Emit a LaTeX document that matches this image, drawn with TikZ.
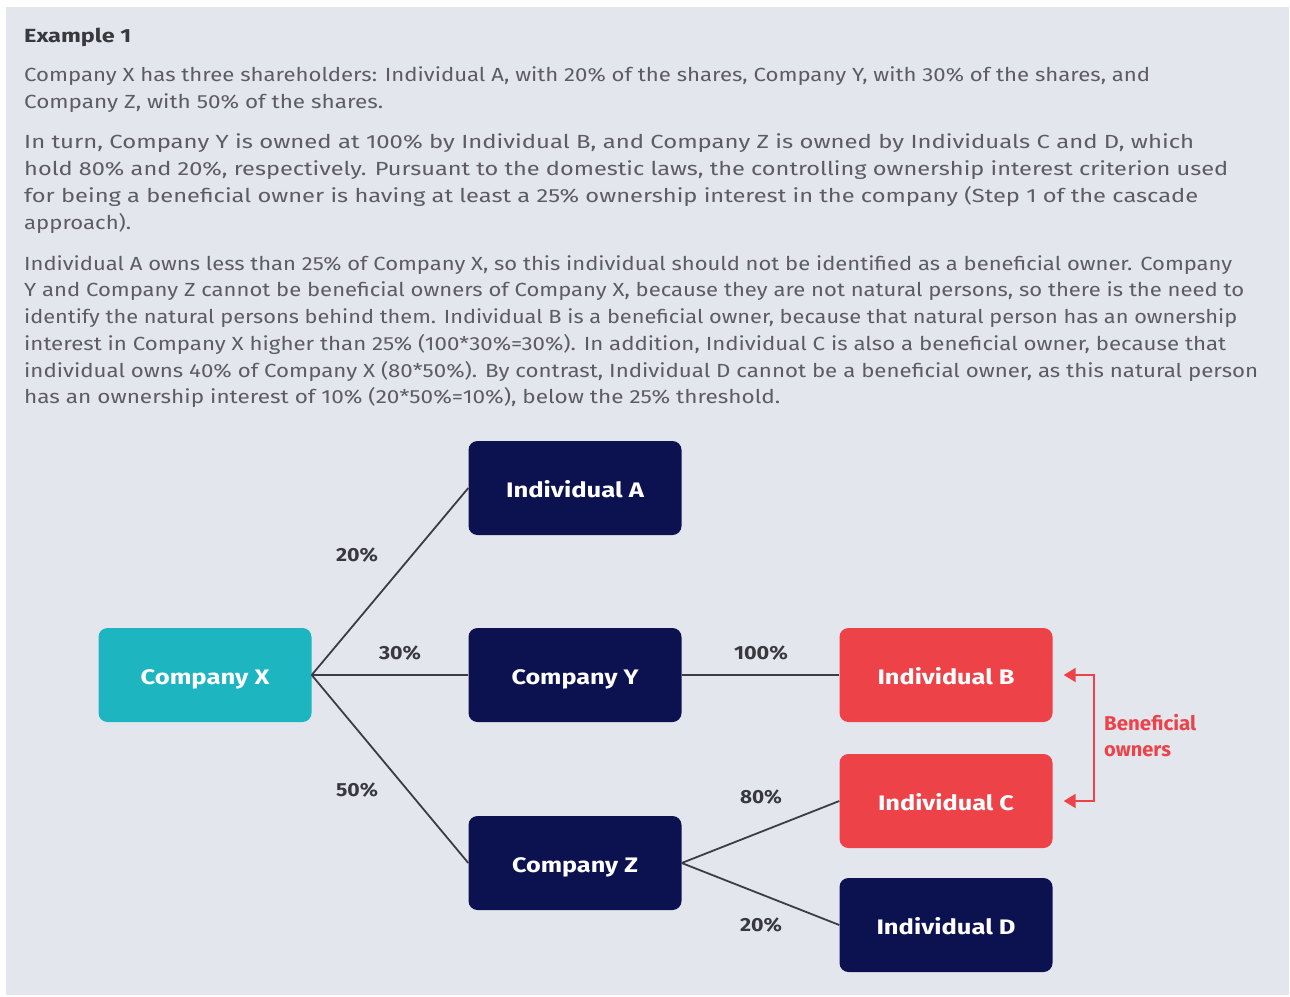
\documentclass[tikz,border=0pt]{standalone}
\usepackage{fontspec}
\setmainfont{Fira Sans}
\usetikzlibrary{arrows.meta}
\definecolor{bgpanel}{HTML}{E4E6EE}
\definecolor{navy}{HTML}{0C1250}
\definecolor{teal}{HTML}{1DB5C0}
\definecolor{redbox}{HTML}{EE4249}
\definecolor{txtgray}{HTML}{5C5C62}
\definecolor{headgray}{HTML}{38383E}
\definecolor{linegray}{HTML}{3C3C48}
\newsavebox\tlbox
\newcommand\tlfit[2]{\sbox\tlbox{#2}\pgfmathsetmacro\tlr{#1/\wd\tlbox}\scalebox{\tlr}[1]{\usebox\tlbox}}
\begin{document}
\begin{tikzpicture}[x=1pt,y=-1pt,
  txt/.style={anchor=base west,inner sep=0pt,text=txtgray,font=\fontsize{19}{20}\selectfont},
  box/.style={rounded corners=9pt,minimum width=213pt,minimum height=94pt,inner sep=0pt,text height=18.5pt,text depth=0pt,text=white,font=\fontsize{21}{24}\selectfont\bfseries},
  pct/.style={inner sep=0pt,text=headgray,font=\fontsize{19}{22}\selectfont\bfseries},
  conn/.style={draw=linegray,line width=1.8pt}]
\useasboundingbox (0,0) rectangle (1290,996);
\fill[white] (0,0) rectangle (1290,996);
\fill[bgpanel] (6,7) rectangle (1289,995);
% heading and text
\node[txt,text=headgray,font=\fontsize{19}{22}\selectfont\bfseries] (h) at (24,42) {\tlfit{107}{Example 1}};
\node[txt] (p1a) at (24,81) {\tlfit{1126}{Company X has three shareholders: Individual A, with 20\% of the shares, Company Y, with 30\% of the shares, and}};
\node[txt] (p1b) at (24,108) {\tlfit{359}{Company Z, with 50\% of the shares.}};
\node[txt] (p2a) at (24,148) {\tlfit{1170}{In turn, Company Y is owned at 100\% by Individual B, and Company Z is owned by Individuals C and D, which}};
\node[txt] (p2b) at (24,175) {\tlfit{1204}{hold 80\% and 20\%, respectively. Pursuant to the domestic laws, the controlling ownership interest criterion used}};
\node[txt] (p2c) at (24,202) {\tlfit{1174}{for being a beneficial owner is having at least a 25\% ownership interest in the company (Step 1 of the cascade}};
\node[txt] (p2d) at (24,229) {\tlfit{107}{approach).}};
\node[txt] (p3a) at (24,270) {\tlfit{1208}{Individual A owns less than 25\% of Company X, so this individual should not be identified as a beneficial owner. Company}};
\node[txt] (p3b) at (24,296) {\tlfit{1220}{Y and Company Z cannot be beneficial owners of Company X, because they are not natural persons, so there is the need to}};
\node[txt] (p3c) at (24,323) {\tlfit{1213}{identify the natural persons behind them. Individual B is a beneficial owner, because that natural person has an ownership}};
\node[txt] (p3d) at (24,350) {\tlfit{1202}{interest in Company X higher than 25\% (100*30\%=30\%). In addition, Individual C is also a beneficial owner, because that}};
\node[txt] (p3e) at (24,377) {\tlfit{1234}{individual owns 40\% of Company X (80*50\%). By contrast, Individual D cannot be a beneficial owner, as this natural person}};
\node[txt] (p3f) at (24,403) {\tlfit{756}{has an ownership interest of 10\% (20*50\%=10\%), below the 25\% threshold.}};
% boxes
\node[box,fill=teal] (X) at (205,675) {\tlfit{129}{Company X}};
\node[box,fill=navy] (A) at (575,488) {\tlfit{138}{Individual A}};
\node[box,fill=navy] (Y) at (575,675) {\tlfit{127}{Company Y}};
\node[box,fill=navy] (Z) at (575,863) {\tlfit{126}{Company Z}};
\node[box,fill=redbox] (B) at (946,675) {\tlfit{137}{Individual B}};
\node[box,fill=redbox] (C) at (946,801) {\tlfit{136}{Individual C}};
\node[box,fill=navy] (D) at (946,925) {\tlfit{139}{Individual D}};
% connectors
\draw[conn] (X.east) -- (A.west);
\draw[conn] (X.east) -- (Y.west);
\draw[conn] (X.east) -- (Z.west);
\draw[conn] (Y.east) -- (B.west);
\draw[conn] (Z.east) -- (C.west);
\draw[conn] (Z.east) -- (D.west);
% percentages
\node[pct] (l20a) at (357,555) {\tlfit{42}{20\%}};
\node[pct] (l30) at (400,653) {\tlfit{42}{30\%}};
\node[pct] (l50) at (357,790) {\tlfit{42}{50\%}};
\node[pct] (l100) at (761,653) {\tlfit{54}{100\%}};
\node[pct] (l80) at (761,797) {\tlfit{42}{80\%}};
\node[pct] (l20b) at (761,925) {\tlfit{42}{20\%}};
% beneficial owners bracket
\draw[draw=redbox,line width=2pt,{Triangle[width=14pt,length=12pt]}-{Triangle[width=14pt,length=12pt]}]
  ([xshift=11pt]B.east) -- ++(30,0) |- ([xshift=11pt]C.east);
\node[anchor=west,inner sep=0pt,align=left,text=redbox,font=\fontsize{20}{26}\selectfont\bfseries] (bo) at (1104,736) {\tlfit{92}{Beneficial}\\owners};
\end{tikzpicture}
\end{document}
